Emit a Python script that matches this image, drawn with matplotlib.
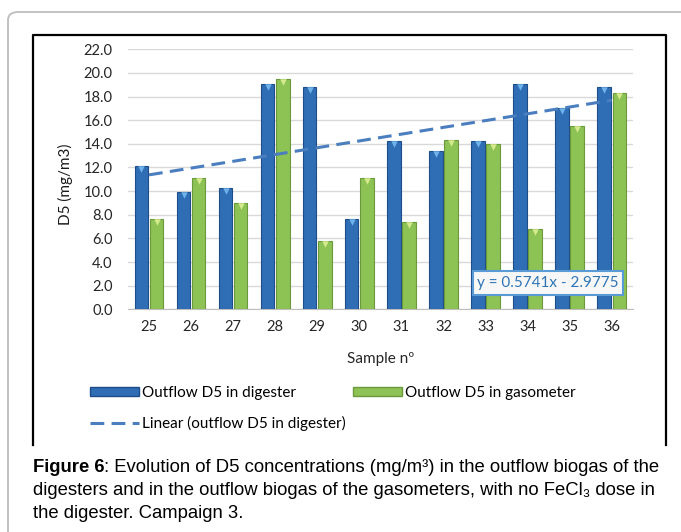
import numpy as np
import matplotlib.pyplot as plt
from matplotlib.patches import FancyBboxPatch, Patch
from matplotlib.lines import Line2D

# Data
samples = [25, 26, 27, 28, 29, 30, 31, 32, 33, 34, 35, 36]
digester = [12.1, 9.9, 10.3, 19.1, 18.8, 7.6, 14.2, 13.4, 14.2, 19.1, 17.0, 18.8]
gasometer = [7.6, 11.1, 9.0, 19.5, 5.8, 11.1, 7.4, 14.3, 14.0, 6.8, 15.5, 18.3]
y_ticks = np.arange(0, 22.1, 2.0)

# Trend line as printed on the chart
slope, intercept = 0.5741, -2.9775
eq_label = "y = 0.5741x - 2.9775"

W, H = 681, 532
fig = plt.figure(figsize=(W / 100, H / 100), dpi=100)
fig.patch.set_facecolor("white")

chart_font = "Lato"
cap_font = ["Liberation Sans", "DejaVu Sans"]

# outer rounded frame (runs off the right/bottom edge)
frame = FancyBboxPatch((8 / W, 1 - 560 / H), 700 / W, 548 / H,
                       boxstyle="round,pad=0,rounding_size=0.015",
                       transform=fig.transFigure, facecolor="white",
                       edgecolor="#BDBDBD", linewidth=1.3, zorder=0)
fig.add_artist(frame)

# black chart border (left, top, right)
x0, x1, y0, y1 = 33 / W, 666 / W, 1 - 445 / H, 1 - 35 / H
fig.add_artist(Line2D([x0, x0, x1, x1], [y0, y1, y1, y0],
                      transform=fig.transFigure, color="black", lw=1.6))

ax = fig.add_axes([128 / W, 1 - 309.3 / H, 504.7 / W, 260 / H])
x = np.array(samples)
w = 0.32
off = 0.18
ax.bar(x - off, digester, width=w, color="#2F6DB5", edgecolor="#1D4E89",
       linewidth=0.8, zorder=3)
ax.bar(x + off, gasometer, width=w, color="#8DC255", edgecolor="#6B9A3C",
       linewidth=0.8, zorder=3)
# light caps on top of bars
ax.scatter(x - off, np.array(digester) - 0.25, marker="v", s=22,
           color="#6DB3EA", zorder=4, linewidths=0)
ax.scatter(x + off, np.array(gasometer) - 0.25, marker="v", s=22,
           color="#D4EA8C", zorder=4, linewidths=0)

trend_x = np.array([samples[0], samples[-1]])
ax.plot(trend_x, slope * trend_x + intercept, color="#4A7EBF", lw=2.2,
        dashes=(4.5, 2.4), zorder=5)

ax.set_xlim(24.5, 36.5)
ax.set_ylim(0, 22)
ax.set_xticks(samples)
ax.set_xticklabels([str(s) for s in samples], fontsize=10.5, family=chart_font)
ax.set_yticks(y_ticks)
ax.set_yticklabels([f"{v:.1f}" for v in y_ticks], fontsize=10.5, family=chart_font)
ax.tick_params(axis="both", length=0, colors="#262626")
ax.tick_params(axis="y", pad=11)
ax.tick_params(axis="x", pad=8)
ax.grid(axis="y", color="#D9D9D9", lw=1, zorder=0)
for s in ["top", "right", "left"]:
    ax.spines[s].set_visible(False)
ax.spines["bottom"].set_color("#BFBFBF")

ax.set_ylabel("D5 (mg/m3)", fontsize=11, family=chart_font, color="#1A1A1A")
ax.yaxis.set_label_coords(-0.108, 0.48)
ax.set_xlabel("Sample nº", fontsize=11, family=chart_font, color="#262626")
ax.xaxis.set_label_coords(0.5, -0.165)

ax.text(0.832, 0.101, eq_label, transform=ax.transAxes, ha="center",
        va="center", fontsize=11, family=chart_font, color="#2E75B6",
        bbox=dict(boxstyle="square,pad=0.3", facecolor="#F7F7F7",
                  edgecolor="#5B9BD5", lw=1.5), zorder=6)

handles = [
    Patch(facecolor="#2F6DB5", edgecolor="#1D4E89", label="Outflow D5 in digester"),
    Line2D([], [], color="#4A7EBF", lw=2.2, dashes=(4.5, 2.4),
           label="Linear (outflow D5 in digester)"),
    Patch(facecolor="#8DC255", edgecolor="#6B9A3C", label="Outflow D5 in gasometer"),
]
fig.legend(handles=handles, loc="upper left", bbox_to_anchor=(90 / W, 1 - 386 / H),
           ncol=2, frameon=False, borderpad=0, borderaxespad=0,
           prop={"family": chart_font, "size": 11}, handlelength=3.2,
           handleheight=0.55, handletextpad=0.2, columnspacing=0.5,
           labelspacing=1.05)

# caption
cap_size = 13.3
fig.canvas.draw()
t = fig.text(33 / W, 1 - 472 / H, "Figure 6", fontsize=cap_size,
             fontweight="bold", family=cap_font, va="baseline")
bb = t.get_window_extent(fig.canvas.get_renderer())
fig.text(bb.x1 / W, 1 - 472 / H,
         ": Evolution of D5 concentrations (mg/m³) in the outflow biogas of the",
         fontsize=cap_size, family=cap_font, va="baseline")
fig.text(33 / W, 1 - 495 / H,
         "digesters and in the outflow biogas of the gasometers, with no FeCl₃ dose in",
         fontsize=cap_size, family=cap_font, va="baseline")
fig.text(33 / W, 1 - 518 / H, "the digester. Campaign 3.",
         fontsize=cap_size, family=cap_font, va="baseline")

fig.savefig("out.png", dpi=100)
